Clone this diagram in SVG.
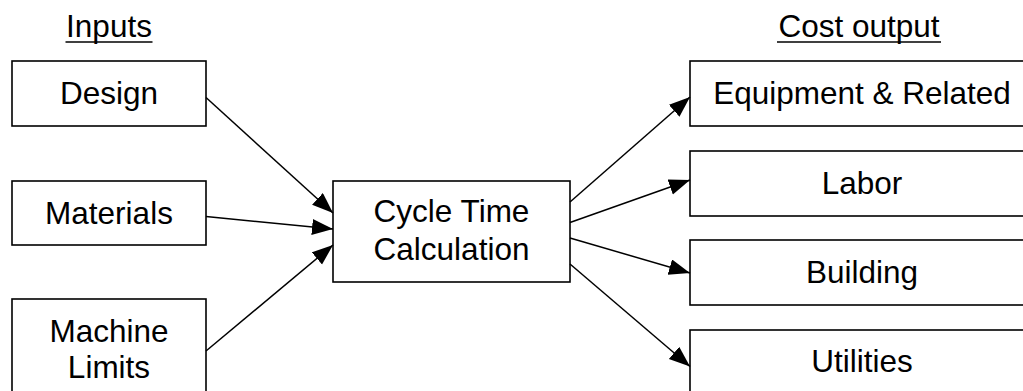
<svg xmlns="http://www.w3.org/2000/svg" width="1023" height="391" viewBox="0 0 1023 391">
  <style>
    .box { fill: #ffffff; stroke: #000000; stroke-width: 1.6; }
    .lbl { font-family: "Liberation Sans", Arial, sans-serif; font-size: 31.5px; fill: #000000; text-anchor: middle; }
    .hdr { font-family: "Liberation Sans", Arial, sans-serif; font-size: 31.5px; fill: #000000; text-anchor: middle; }
    .ul { stroke: #000000; stroke-width: 1.3; }
    .conn { stroke: #000000; stroke-width: 1.5; fill: none; marker-end: url(#arrow); }
  </style>
  <defs>
    <marker id="arrow" markerUnits="userSpaceOnUse" markerWidth="22" markerHeight="17" refX="21" refY="8" orient="auto">
      <path d="M0,0 L21,8 L0,16 Z" fill="#000000"/>
    </marker>
  </defs>
  <rect width="1023" height="391" fill="#ffffff"/>

  <g id="header-inputs">
    <text class="hdr" x="109" y="37">Inputs</text>
    <line class="ul" x1="65.5" y1="42" x2="152.5" y2="42"/>
  </g>
  <g id="header-cost">
    <text class="hdr" x="859" y="37">Cost output</text>
    <line class="ul" x1="777" y1="42" x2="941" y2="42"/>
  </g>

  <g id="design">
    <rect class="box" x="12" y="61" width="194" height="65"/>
    <text class="lbl" x="109" y="104">Design</text>
  </g>
  <g id="materials">
    <rect class="box" x="12" y="181" width="194" height="64"/>
    <text class="lbl" x="109" y="224">Materials</text>
  </g>
  <g id="machine-limits">
    <rect class="box" x="12" y="299" width="194" height="110"/>
    <text class="lbl" x="109" y="342">Machine</text>
    <text class="lbl" x="109" y="378">Limits</text>
  </g>
  <g id="cycle-time">
    <rect class="box" x="333" y="181" width="237" height="101"/>
    <text class="lbl" x="451.5" y="222">Cycle Time</text>
    <text class="lbl" x="451.5" y="260">Calculation</text>
  </g>
  <g id="equipment">
    <rect class="box" x="690" y="61" width="344" height="65"/>
    <text class="lbl" x="862" y="104">Equipment &amp; Related</text>
  </g>
  <g id="labor">
    <rect class="box" x="690" y="151" width="344" height="65"/>
    <text class="lbl" x="862" y="194">Labor</text>
  </g>
  <g id="building">
    <rect class="box" x="690" y="240" width="344" height="65"/>
    <text class="lbl" x="862" y="283">Building</text>
  </g>
  <g id="utilities">
    <rect class="box" x="690" y="330" width="344" height="80"/>
    <text class="lbl" x="862" y="372">Utilities</text>
  </g>

  <g id="connectors">
    <line class="conn" x1="206" y1="97.5" x2="333" y2="213"/>
    <line class="conn" x1="206" y1="216.5" x2="333" y2="229"/>
    <line class="conn" x1="206" y1="351" x2="333" y2="245"/>
    <line class="conn" x1="570" y1="202" x2="690" y2="97"/>
    <line class="conn" x1="570" y1="222.5" x2="690" y2="180"/>
    <line class="conn" x1="570" y1="238" x2="690" y2="273"/>
    <line class="conn" x1="570" y1="264" x2="690" y2="366.5"/>
  </g>
</svg>
